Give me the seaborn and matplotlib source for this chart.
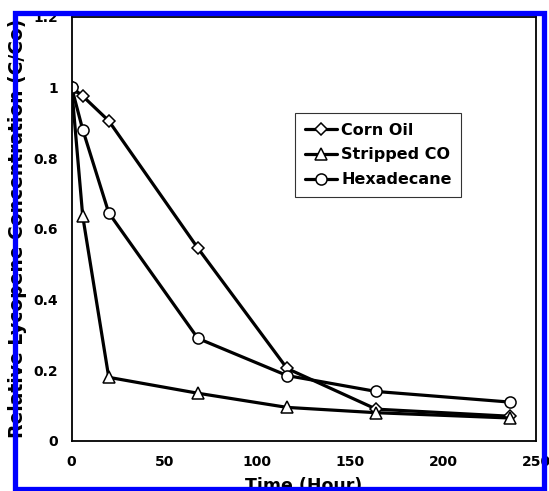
import matplotlib
matplotlib.use("Agg")
import matplotlib.pyplot as plt
import seaborn as sns
import pandas as pd
from matplotlib.patches import Rectangle

time_hr = [0, 6, 20, 68, 116, 164, 236]
corn_oil = [1.0, 0.975, 0.905, 0.545, 0.205, 0.09, 0.07]
stripped_co = [1.0, 0.635, 0.18, 0.135, 0.095, 0.08, 0.065]
hexadecane = [1.0, 0.88, 0.645, 0.29, 0.185, 0.14, 0.11]
series_names = ["Corn Oil", "Stripped CO", "Hexadecane"]
x_ticks = [0, 50, 100, 150, 200, 250]
y_ticks = [0, 0.2, 0.4, 0.6, 0.8, 1.0, 1.2]
y_tick_labels = ["0", "0.2", "0.4", "0.6", "0.8", "1", "1.2"]

sns.set_style("white")
plt.rcParams["font.family"] = ["DejaVu Sans"]
plt.rcParams["font.weight"] = "bold"
plt.rcParams["text.color"] = "black"
plt.rcParams["axes.labelcolor"] = "black"
plt.rcParams["xtick.color"] = "black"
plt.rcParams["ytick.color"] = "black"

df = pd.DataFrame({
    "Time": time_hr * 3,
    "Value": corn_oil + stripped_co + hexadecane,
    "Series": [series_names[0]] * 7 + [series_names[1]] * 7 + [series_names[2]] * 7,
})

fig = plt.figure(figsize=(5.49, 4.91), dpi=100)
ax = fig.add_axes([71.6 / 549, 1 - 441 / 491, (536 - 71.6) / 549, (441 - 16.5) / 491])

markers = {"Corn Oil": "D", "Stripped CO": "^", "Hexadecane": "o"}
msizes = {"Corn Oil": 6.5, "Stripped CO": 8, "Hexadecane": 8}
for name in series_names:
    sub = df[df["Series"] == name]
    sns.lineplot(data=sub, x="Time", y="Value", ax=ax, color="black", linewidth=2.3,
                 marker=markers[name], markersize=msizes[name], markerfacecolor="white",
                 markeredgecolor="black", markeredgewidth=1.1, label=name)

ax.set_xlim(0, 250)
ax.set_ylim(0, 1.2)
ax.set_xticks(x_ticks)
ax.set_xticklabels([str(t) for t in x_ticks], fontsize=10, fontweight="bold", color="black")
ax.set_yticks(y_ticks)
ax.set_yticklabels(y_tick_labels, fontsize=10, fontweight="bold", color="black")
ax.tick_params(direction="out", length=4, width=1.2, colors="black", pad=6)
for sp in ax.spines.values():
    sp.set_visible(True)
    sp.set_color("black")
    sp.set_linewidth(1.3)

ax.set_xlabel("Time (Hour)", fontsize=12.5, fontweight="bold", color="black")
ax.set_ylabel("Relative Lycopene Concentration (C/Co)", fontsize=13.5, fontweight="bold", color="black")
ax.xaxis.set_label_coords(0.5, -0.085)
ax.yaxis.set_label_coords(-0.095, 0.5)

leg = ax.legend(loc="upper left", bbox_to_anchor=((295 - 71.6) / 464.4, (441 - 113) / 424.5),
                borderaxespad=0, frameon=True, fancybox=False, shadow=False,
                handlelength=2.0, handletextpad=0.3, labelspacing=0.62,
                borderpad=0.6, edgecolor="black", prop={"weight": "bold", "size": 11.5})
leg.get_frame().set_linewidth(0.8)
for t in leg.get_texts():
    t.set_color("black")

fig.patches.append(Rectangle((14.5 / 549, 1 - 488.5 / 491), (543.5 - 14.5) / 549, (488.5 - 13) / 491,
                             transform=fig.transFigure, fill=False, edgecolor="#0000ff",
                             linewidth=3.8, zorder=10))

fig.savefig("out.png", dpi=100)
